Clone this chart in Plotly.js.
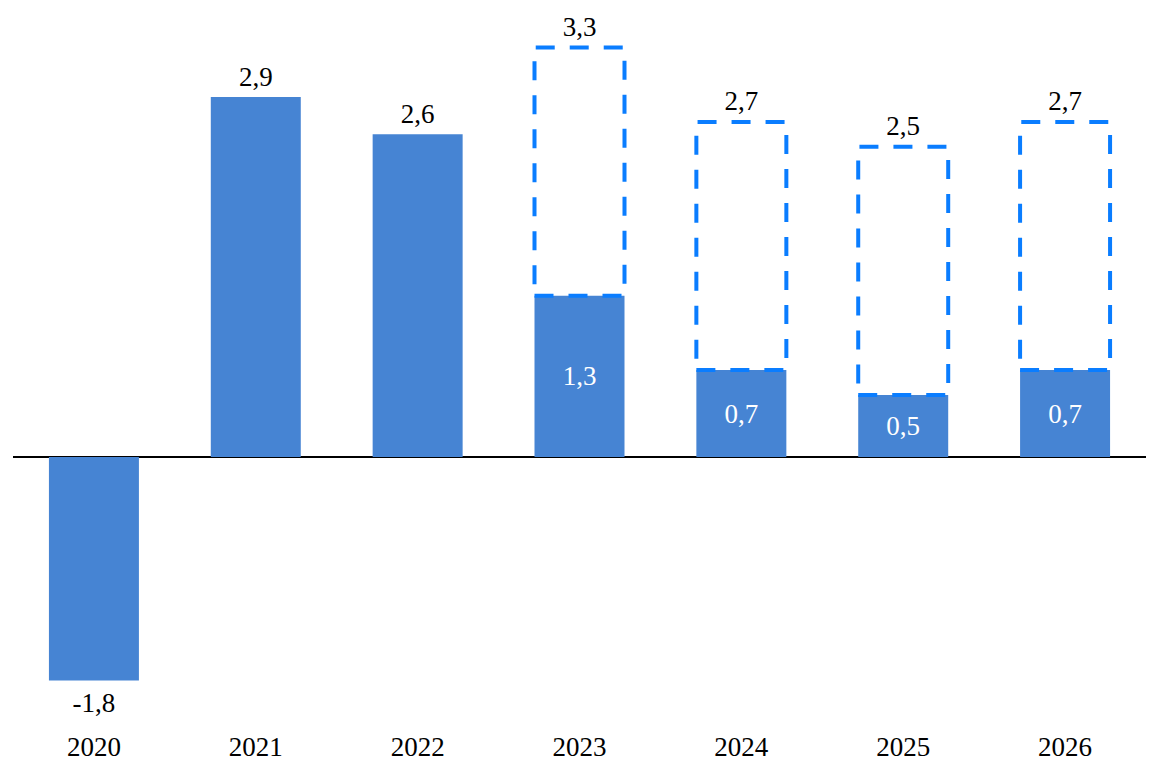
<!DOCTYPE html>
<html>
<head>
<meta charset="utf-8">
<script src="https://cdn.plot.ly/plotly-3.0.1.min.js"></script>
<style>html,body{margin:0;padding:0;background:#fff;}#chart{width:1158px;height:783px;}</style>
</head>
<body>
<div id="chart"></div>
<script>
const years = ['2020','2021','2022','2023','2024','2025','2026'];
const values = [-1.8, 2.9, 2.6, 1.3, 0.7, 0.5, 0.7];
const boxYears = ['2023','2024','2025','2026'];
const boxTops = [3.3, 2.7, 2.5, 2.7];

const fmt = v => v.toFixed(1).replace('.', ',');
const FONT = 'Liberation Serif, Times New Roman, serif';
const FS = 27;
const halfW = 0.278;

const isBox = years.map(y => boxYears.includes(y));
const plainYears = years.filter((y, i) => !isBox[i]);
const plainValues = values.filter((v, i) => !isBox[i]);

const barTrace = {
  type: 'bar',
  x: years,
  y: values,
  width: 2 * halfW,
  marker: {color: '#4684D3'},
  text: values.map((v, i) => isBox[i] ? fmt(v) : ''),
  textposition: 'inside',
  insidetextanchor: 'middle',
  insidetextfont: {color: '#FFFFFF', size: FS, family: FONT},
  cliponaxis: false,
  hoverinfo: 'skip'
};

const plainLabels = {
  type: 'scatter',
  mode: 'markers+text',
  x: plainYears,
  y: plainValues,
  text: plainValues.map(fmt),
  textposition: plainValues.map(v => v >= 0 ? 'top center' : 'bottom center'),
  marker: {size: plainValues.map(v => v >= 0 ? 5 : 16), opacity: 0, color: '#fff'},
  textfont: {color: '#000000', size: FS, family: FONT},
  cliponaxis: false,
  hoverinfo: 'skip'
};

const boxLabels = {
  type: 'scatter',
  mode: 'markers+text',
  x: boxYears,
  y: boxTops,
  text: boxTops.map(fmt),
  textposition: 'top center',
  marker: {size: 6, opacity: 0, color: '#fff'},
  textfont: {color: '#000000', size: FS, family: FONT},
  cliponaxis: false,
  hoverinfo: 'skip'
};

const shapes = boxYears.map((y, k) => {
  const i = years.indexOf(y);
  return {
    type: 'rect', xref: 'x', yref: 'y',
    x0: i - halfW, x1: i + halfW,
    y0: values[i], y1: boxTops[k],
    line: {color: '#0A7DFF', width: 4, dash: '19px,15px'},
    fillcolor: 'rgba(0,0,0,0)',
    layer: 'above'
  };
});

const layout = {
  width: 1158, height: 783,
  margin: {l: 13, r: 12, t: 20, b: 63},
  paper_bgcolor: '#FFFFFF',
  plot_bgcolor: '#FFFFFF',
  showlegend: false,
  font: {family: FONT, color: '#000000', size: FS},
  xaxis: {
    type: 'category',
    showgrid: false, showline: false, zeroline: false,
    ticks: '', tickfont: {size: FS, family: FONT, color: '#000'},
    ticklabelstandoff: 8,
    range: [-0.5, 6.5]
  },
  yaxis: {
    range: [-2.119, 3.521],
    showgrid: false, showticklabels: false, ticks: '',
    zeroline: true, zerolinecolor: '#000000', zerolinewidth: 1.3,
    showline: false
  },
  shapes: shapes
};

Plotly.newPlot('chart', [barTrace, plainLabels, boxLabels], layout, {displayModeBar: false, staticPlot: true});
</script>
</body>
</html>
